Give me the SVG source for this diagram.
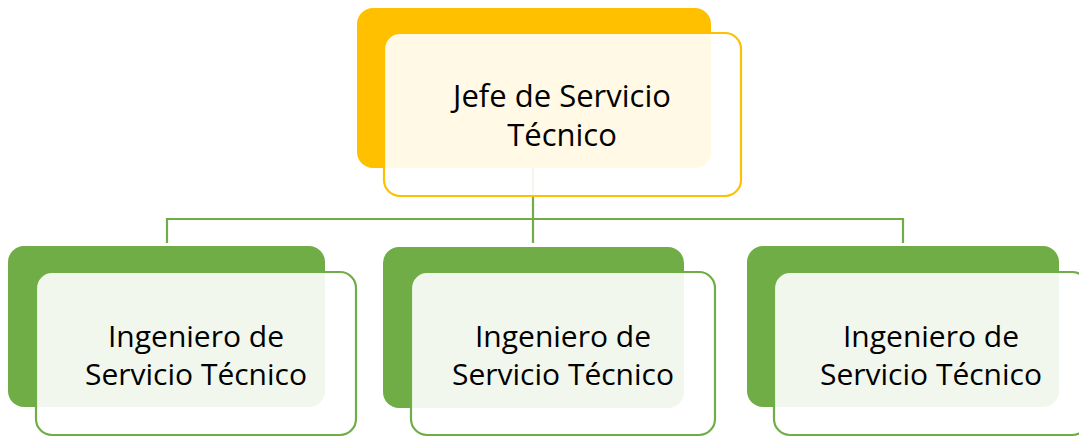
<svg xmlns="http://www.w3.org/2000/svg" width="1079" height="437" viewBox="0 0 1079 437">
<style>
.conn{fill:none;stroke:#70AD47;stroke-width:2.2}
.gold{fill:#FFC000}
.goldov{fill:#FFFFFF;fill-opacity:0.9;stroke:#FFC000;stroke-width:2.2}
.green{fill:#70AD47}
.greenov{fill:#FFFFFF;fill-opacity:0.9;stroke:#70AD47;stroke-width:2.2}
text{font-family:"Open Sans","Noto Sans","DejaVu Sans",sans-serif;font-size:30px;fill:#000;text-anchor:middle}
</style>
<rect width="1079" height="437" fill="#FFFFFF"/>
<g id="connectors">
<path class="conn" d="M533,168 V219 M167,243 V219 H903 V243 M533,219 V243"/>
</g>
<g id="node-jefe">
<rect class="gold" x="357" y="8" width="354" height="160" rx="16"/>
<rect class="goldov" x="384" y="33" width="357" height="163" rx="16"/>
<text x="562" y="107" style="font-size:31px">Jefe de Servicio</text>
<text x="562" y="146" style="font-size:31px">Técnico</text>
</g>
<g id="node-ing1">
<rect class="green" x="8" y="246" width="317" height="161" rx="16"/>
<rect class="greenov" x="36" y="272" width="320" height="163" rx="16"/>
<text x="196" y="347">Ingeniero de</text>
<text x="196" y="385">Servicio Técnico</text>
</g>
<g id="node-ing2">
<rect class="green" x="383" y="247" width="301" height="161" rx="16"/>
<rect class="greenov" x="411" y="272" width="304" height="163" rx="16"/>
<text x="563" y="347">Ingeniero de</text>
<text x="563" y="385">Servicio Técnico</text>
</g>
<g id="node-ing3">
<rect class="green" x="747" y="246" width="312" height="161" rx="16"/>
<rect class="greenov" x="774" y="272" width="314" height="163" rx="16"/>
<text x="931" y="347">Ingeniero de</text>
<text x="931" y="385">Servicio Técnico</text>
</g>
</svg>
